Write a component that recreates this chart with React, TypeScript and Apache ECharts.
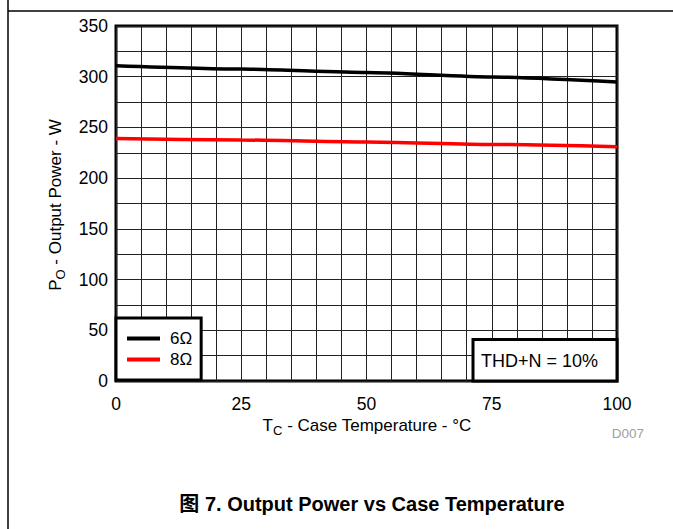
import React, { useEffect, useRef } from "react";
import * as echarts from "echarts";

const temperatures = [0, 25, 50, 75, 100];
const power6Ohm = [310.8, 307.5, 304.2, 299.8, 294.8];
const power8Ohm = [239.1, 237.6, 235.6, 233.2, 231.0];
const seriesNames = ["6Ω", "8Ω"];
const xTicks = [0, 25, 50, 75, 100];
const yTicks = [0, 50, 100, 150, 200, 250, 300, 350];

const FONT = "'Liberation Sans', Arial, 'Noto Sans CJK SC', sans-serif";

export default function App() {
  const ref = useRef<HTMLDivElement>(null);
  useEffect(() => {
    if (!ref.current) return;
    const chart = echarts.init(ref.current, null, { renderer: "svg" });
    const toPairs = (ys: number[]) => temperatures.map((t, i) => [t, ys[i]]);
    chart.setOption({
      animation: false,
      backgroundColor: "#fff",
      textStyle: { fontFamily: FONT },
      grid: {
        left: 116,
        right: 56,
        top: 26,
        bottom: 148,
        show: true,
        borderColor: "#000",
        borderWidth: 3,
        backgroundColor: "transparent",
      },
      xAxis: {
        type: "value",
        min: xTicks[0],
        max: xTicks[xTicks.length - 1],
        interval: 25,
        axisLine: { show: false },
        axisTick: { show: false },
        axisLabel: { color: "#000", fontSize: 17.5, margin: 14, fontFamily: FONT },
        splitLine: { show: true, lineStyle: { color: "#222", width: 1 } },
        minorTick: { show: false, splitNumber: 5 },
        minorSplitLine: { show: true, lineStyle: { color: "#222", width: 1 } },
      },
      yAxis: {
        type: "value",
        min: yTicks[0],
        max: yTicks[yTicks.length - 1],
        interval: 50,
        axisLine: { show: false },
        axisTick: { show: false },
        axisLabel: { color: "#000", fontSize: 17.5, margin: 8, fontFamily: FONT },
        splitLine: { show: true, lineStyle: { color: "#222", width: 1 } },
        minorTick: { show: false, splitNumber: 2 },
        minorSplitLine: { show: true, lineStyle: { color: "#222", width: 1 } },
      },
      legend: {
        left: 116,
        top: 318,
        orient: "vertical",
        data: seriesNames,
        icon: "rect",
        itemWidth: 33,
        itemHeight: 4,
        itemGap: 4,
        padding: [12, 9, 12, 11],
        borderColor: "#000",
        borderWidth: 3,
        borderRadius: 0,
        backgroundColor: "#fff",
        textStyle: { color: "#000", fontSize: 17, fontFamily: FONT, padding: [0, 0, 0, 5] },
        z: 20,
      },
      series: [
        {
          name: seriesNames[0],
          type: "line",
          data: toPairs(power6Ohm),
          smooth: 0.2,
          smoothMonotone: "x",
          showSymbol: false,
          lineStyle: { color: "#000", width: 3.5 },
          itemStyle: { color: "#000" },
          z: 5,
        },
        {
          name: seriesNames[1],
          type: "line",
          data: toPairs(power8Ohm),
          smooth: 0.2,
          smoothMonotone: "x",
          showSymbol: false,
          lineStyle: { color: "#ff0000", width: 3.5 },
          itemStyle: { color: "#ff0000" },
          z: 5,
        },
      ],
      graphic: [
        {
          type: "line",
          z: 40,
          shape: { x1: 8, y1: 0, x2: 8, y2: 529 },
          style: { stroke: "#000", lineWidth: 1.5 },
        },
        {
          type: "line",
          z: 40,
          shape: { x1: 8, y1: 11, x2: 673, y2: 11 },
          style: { stroke: "#000", lineWidth: 1.5 },
        },
        {
          type: "rect",
          z: 50,
          shape: { x: 473, y: 339.5, width: 144, height: 41.5 },
          style: { fill: "#fff", stroke: "#000", lineWidth: 3 },
        },
        {
          type: "text",
          z: 51,
          x: 481,
          y: 361,
          style: {
            text: "THD+N = 10%",
            font: `18px ${FONT}`,
            fill: "#000",
            align: "left",
            verticalAlign: "middle",
          },
        },
        {
          type: "text",
          z: 40,
          x: 55,
          y: 205,
          rotation: Math.PI / 2,
          style: {
            text: "{m|P}{s|O}{m| - Output Power - W}",
            align: "center",
            verticalAlign: "middle",
            fill: "#000",
            rich: {
              m: { fontSize: 17, fontFamily: FONT, lineHeight: 24, verticalAlign: "middle", fill: "#000" },
              s: { fontSize: 13, fontFamily: FONT, lineHeight: 24, verticalAlign: "bottom", fill: "#000" },
            },
          },
        },
        {
          type: "text",
          z: 40,
          x: 367,
          y: 425,
          style: {
            text: "{m|T}{s|C}{m| - Case Temperature - °C}",
            align: "center",
            verticalAlign: "middle",
            fill: "#000",
            rich: {
              m: { fontSize: 17, fontFamily: FONT, lineHeight: 24, verticalAlign: "middle", fill: "#000" },
              s: { fontSize: 13, fontFamily: FONT, lineHeight: 24, verticalAlign: "bottom", fill: "#000" },
            },
          },
        },
        {
          type: "text",
          z: 40,
          x: 644,
          y: 433,
          style: {
            text: "D007",
            font: `13.5px ${FONT}`,
            fill: "#a0a0a0",
            align: "right",
            verticalAlign: "middle",
          },
        },
        {
          type: "text",
          z: 40,
          x: 372,
          y: 504,
          style: {
            text: "图 7. Output Power vs Case Temperature",
            font: `bold 20px ${FONT}`,
            fill: "#000",
            align: "center",
            verticalAlign: "middle",
          },
        },
      ],
    });
    return () => chart.dispose();
  }, []);
  return (
    <div
      ref={ref}
      style={{ position: "absolute", left: 0, top: 0, width: 673, height: 529 }}
    />
  );
}
